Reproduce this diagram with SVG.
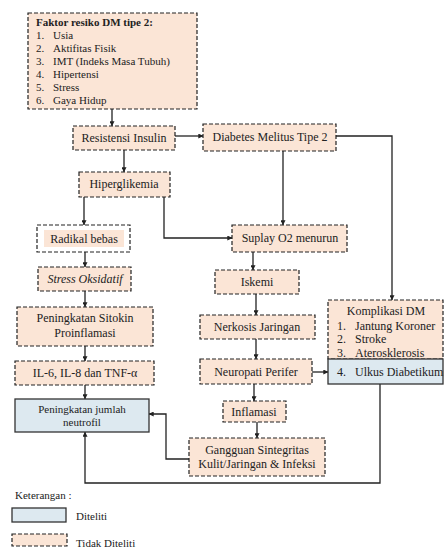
<svg xmlns="http://www.w3.org/2000/svg" width="445" height="552" viewBox="0 0 445 552" font-family="'Liberation Serif', 'DejaVu Serif', serif">
<style>
text{font-family:'Liberation Serif','DejaVu Serif',serif;font-size:12px;fill:#222}
.c{text-anchor:middle}
.d{fill:#fbe5d6;stroke:#222;stroke-width:1.2;stroke-dasharray:4 2}
.s{fill:#dde9f0;stroke:#333;stroke-width:1.3}
.ln{fill:none;stroke:#222;stroke-width:1.3}
</style>
<defs>
<marker id="a" viewBox="0 0 8 8" refX="7.5" refY="4" markerWidth="5" markerHeight="5" orient="auto" markerUnits="userSpaceOnUse">
<path d="M0,0 L8,4 L0,8 z" fill="#222"/>
</marker>
</defs>
<rect width="445" height="552" fill="#fff"/>

<g id="connectors" class="ln">
<path class="ln" d="M112,109 V126" marker-end="url(#a)"/>
<path class="ln" d="M175,136 H203" marker-end="url(#a)"/>
<path class="ln" d="M336,136 H392 V300" marker-end="url(#a)"/>
<path class="ln" d="M283,151 V225" marker-end="url(#a)"/>
<path class="ln" d="M124,150 V172" marker-end="url(#a)"/>
<path class="ln" d="M84,197 V225" marker-end="url(#a)"/>
<path class="ln" d="M164,197 V238 H232" marker-end="url(#a)"/>
<path class="ln" d="M85,252 V267" marker-end="url(#a)"/>
<path class="ln" d="M85,291 V307" marker-end="url(#a)"/>
<path class="ln" d="M85,346 V361" marker-end="url(#a)"/>
<path class="ln" d="M85,385 V399" marker-end="url(#a)"/>
<path class="ln" d="M253,252 V270" marker-end="url(#a)"/>
<path class="ln" d="M256,294 V315" marker-end="url(#a)"/>
<path class="ln" d="M256,339 V359" marker-end="url(#a)"/>
<path class="ln" d="M312,372 H328" marker-end="url(#a)"/>
<path class="ln" d="M254,384 V401" marker-end="url(#a)"/>
<path class="ln" d="M257,422 V438" marker-end="url(#a)"/>
<path class="ln" d="M189,459 H166 V414 H149" marker-end="url(#a)"/>
<path class="ln" d="M380,384 V483 H85 V432" marker-end="url(#a)"/>
</g>

<g id="faktor">
<rect class="d" x="28" y="13" width="169" height="96"/>
<text x="36" y="26" style="font-size:11px;font-weight:bold">Faktor resiko DM tipe 2:</text>
<text x="36" y="39" style="font-size:11px">1.</text><text x="53" y="39" style="font-size:11px">Usia</text>
<text x="36" y="52" style="font-size:11px">2.</text><text x="53" y="52" style="font-size:11px">Aktifitas Fisik</text>
<text x="36" y="65" style="font-size:11px">3.</text><text x="53" y="65" style="font-size:11px">IMT (Indeks Masa Tubuh)</text>
<text x="36" y="78" style="font-size:11px">4.</text><text x="53" y="78" style="font-size:11px">Hipertensi</text>
<text x="36" y="91" style="font-size:11px">5.</text><text x="53" y="91" style="font-size:11px">Stress</text>
<text x="36" y="104" style="font-size:11px">6.</text><text x="53" y="104" style="font-size:11px">Gaya Hidup</text>
</g>

<g id="resistensi">
<rect class="d" x="73" y="126" width="102" height="24"/>
<text class="c" x="124" y="142">Resistensi Insulin</text>
</g>

<g id="diabetes">
<rect class="d" x="203" y="124" width="133" height="27"/>
<text class="c" x="270" y="141">Diabetes Melitus Tipe 2</text>
</g>

<g id="hiperglikemia">
<rect class="d" x="79" y="172" width="91" height="25"/>
<text class="c" x="124" y="188">Hiperglikemia</text>
</g>

<g id="radikal">
<rect class="d" x="37" y="225" width="93" height="27" style="fill:#fff"/>
<rect x="44" y="230" width="80" height="17" fill="#fbe5d6"/>
<text class="c" x="84" y="243">Radikal bebas</text>
</g>

<g id="stress">
<rect class="d" x="38" y="267" width="93" height="24"/>
<text class="c" x="85" y="283" style="font-style:italic">Stress Oksidatif</text>
</g>

<g id="sitokin">
<rect class="d" x="17" y="307" width="136" height="39"/>
<text class="c" x="85" y="322">Peningkatan Sitokin</text>
<text class="c" x="85" y="337">Proinflamasi</text>
</g>

<g id="il">
<rect class="d" x="15" y="361" width="139" height="24"/>
<text class="c" x="85" y="377">IL-6, IL-8 dan TNF-α</text>
</g>

<g id="neutrofil">
<rect class="s" x="15" y="399" width="134" height="33"/>
<text class="c" x="82" y="413" style="font-size:11px">Peningkatan jumlah</text>
<text class="c" x="82" y="426" style="font-size:11px">neutrofil</text>
</g>

<g id="suplay">
<rect class="d" x="232" y="225" width="115" height="27"/>
<text class="c" x="290" y="242">Suplay O2 menurun</text>
</g>

<g id="iskemi">
<rect class="d" x="215" y="270" width="84" height="24"/>
<text class="c" x="257" y="286">Iskemi</text>
</g>

<g id="nerkosis">
<rect class="d" x="200" y="315" width="115" height="24"/>
<text class="c" x="257" y="331">Nerkosis Jaringan</text>
</g>

<g id="neuropati">
<rect class="d" x="200" y="359" width="112" height="25"/>
<text class="c" x="256" y="376">Neuropati Perifer</text>
</g>

<g id="inflamasi">
<rect class="d" x="223" y="401" width="63" height="21"/>
<text class="c" x="254" y="416">Inflamasi</text>
</g>

<g id="gangguan">
<rect class="d" x="189" y="438" width="136" height="38"/>
<text class="c" x="257" y="454">Gangguan Sintegritas</text>
<text class="c" x="257" y="468">Kulit/Jaringan &amp; Infeksi</text>
</g>

<g id="komplikasi">
<rect class="d" x="328" y="300" width="115" height="59"/>
<text class="c" x="386" y="315">Komplikasi DM</text>
<text x="337" y="330">1.</text><text x="355" y="330">Jantung Koroner</text>
<text x="337" y="343">2.</text><text x="355" y="343">Stroke</text>
<text x="337" y="357">3.</text><text x="355" y="357">Aterosklerosis</text>
</g>

<g id="ulkus">
<rect class="s" x="328" y="359" width="115" height="25"/>
<text x="337" y="376">4.</text><text x="355" y="376">Ulkus Diabetikum</text>
</g>

<g id="legend">
<text x="15" y="499" style="font-size:11px">Keterangan :</text>
<rect class="s" x="12" y="508" width="54" height="14"/>
<text x="76" y="520" style="font-size:11px">Diteliti</text>
<rect class="d" x="12" y="534" width="55" height="12"/>
<text x="76" y="547" style="font-size:11px">Tidak Diteliti</text>
</g>
</svg>
